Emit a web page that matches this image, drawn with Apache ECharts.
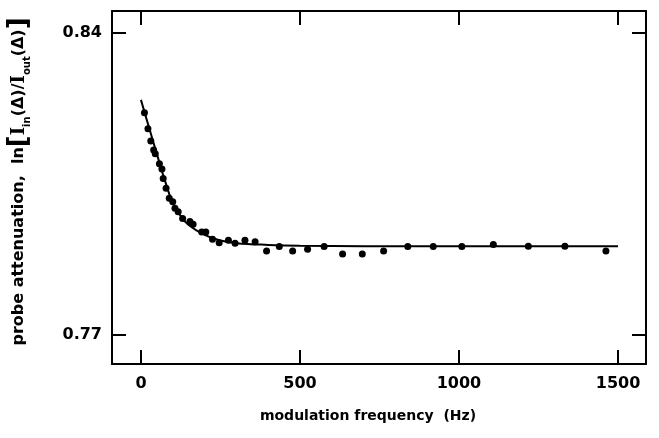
<!DOCTYPE html>
<html>
<head>
<meta charset="utf-8">
<script src="https://cdn.jsdelivr.net/npm/echarts@6/dist/echarts.min.js"></script>
<style>html,body{margin:0;padding:0;background:#fff;}#c{width:659px;height:438px;}</style>
</head>
<body>
<div id="c"></div>
<script>
// measured data points (modulation frequency Hz, probe attenuation)
var pointX = [11, 22, 31, 40, 45, 58, 66, 70, 79, 89, 100, 107, 117, 131, 154, 164, 191, 204, 225, 246, 275, 296, 327, 359, 395, 435, 477, 524, 576, 634, 696, 763, 839, 919, 1009, 1108, 1218, 1333, 1462];
var pointY = [0.8215, 0.8178, 0.8150, 0.8129, 0.8120, 0.8097, 0.8085, 0.8063, 0.8040, 0.8017, 0.8009, 0.7994, 0.7986, 0.7970, 0.7963, 0.7957, 0.7939, 0.7939, 0.7922, 0.7914, 0.7920, 0.7913, 0.7920, 0.7916, 0.7895, 0.7905, 0.7895, 0.7899, 0.7905, 0.7888, 0.7888, 0.7895, 0.7905, 0.7905, 0.7905, 0.7910, 0.7906, 0.7906, 0.7895];
// fitted curve
var curveX = [0, 25, 50, 75, 100, 125, 150, 200, 250, 300, 400, 500, 700, 1000, 1500];
var curveY = [0.8245, 0.8182, 0.8120, 0.8059, 0.8006, 0.7976, 0.7955, 0.7932, 0.7919, 0.7913, 0.7909, 0.7907, 0.7906, 0.7906, 0.7906];
// tick positions / labels
var xTicks = [0, 500, 1000, 1500];
var yTicks = [0.77, 0.84];
var yTickLabels = ['0.77', '0.84'];

var pts = pointX.map(function (x, i) { return [x, pointY[i]]; });
var crv = curveX.map(function (x, i) { return [x, curveY[i]]; });

var XMIN = -91, XMAX = 1588, YMIN = 0.7633, YMAX = 0.8451;
var font = 'DejaVu Sans';
var lineStyle = { color: '#000', width: 2 };

function xAxis(pos, showLabel) {
  return {
    type: 'value', position: pos, min: XMIN, max: XMAX,
    axisLine: { show: true, onZero: false, lineStyle: lineStyle },
    axisTick: { show: true, inside: true, length: 14, lineStyle: lineStyle, customValues: xTicks },
    axisLabel: { show: showLabel, customValues: xTicks, margin: 12, color: '#000', fontFamily: font, fontWeight: 'bold', fontSize: 16,
      formatter: function (v) { return String(v); } },
    splitLine: { show: false }
  };
}
function yAxis(pos, showLabel) {
  return {
    type: 'value', position: pos, min: YMIN, max: YMAX,
    axisLine: { show: true, onZero: false, lineStyle: lineStyle },
    axisTick: { show: true, inside: true, length: 14, lineStyle: lineStyle, customValues: yTicks },
    axisLabel: { show: showLabel, customValues: yTicks, margin: 10, color: '#000', fontFamily: font, fontWeight: 'bold', fontSize: 16,
      formatter: function (v) { var i = -1; for (var k = 0; k < yTicks.length; k++) if (Math.abs(yTicks[k]-v) < 1e-6) i = k; return i >= 0 ? yTickLabels[i] : ''; } },
    splitLine: { show: false }
  };
}

var xb = xAxis('bottom', true);
xb.name = 'modulation frequency  (Hz)';
xb.nameLocation = 'middle';
xb.nameGap = 45;
xb.nameTextStyle = { color: '#000', fontFamily: font, fontWeight: 'bold', fontSize: 14, padding: [0, 22, 0, 0] };

var yl = yAxis('left', true);
yl.name = '{t|probe attenuation,  ln}{b|[}{i|I}{s|in}{t|(Δ)/}{i|I}{s|out}{t|(Δ)}{b|]}';
yl.nameLocation = 'middle';
yl.nameRotate = 90;
yl.nameGap = 80;
yl.nameTextStyle = {
  color: '#000', fontFamily: font, fontWeight: 'bold', fontSize: 16,
  padding: [0, 0, 0, 12],
  rich: {
    t: { fontFamily: font, fontWeight: 'bold', fontSize: 16, lineHeight: 26, color: '#000' },
    b: { fontFamily: font, fontWeight: 'bold', fontSize: 26, lineHeight: 26, color: '#000' },
    i: { fontFamily: 'DejaVu Serif', fontWeight: 'bold', fontSize: 18, lineHeight: 26, color: '#000' },
    s: { fontFamily: font, fontWeight: 'bold', fontSize: 10, lineHeight: 11, verticalAlign: 'bottom', color: '#000' }
  }
};

var chart = echarts.init(document.getElementById('c'), null, { renderer: 'canvas' });
chart.setOption({
  backgroundColor: '#fff',
  animation: false,
  grid: { left: 112, right: 13, top: 11, bottom: 74, containLabel: false, outerBoundsMode: 'none' },
  xAxis: [xb, xAxis('top', false)],
  yAxis: [yl, yAxis('right', false)],
  series: [
    { type: 'line', data: crv, xAxisIndex: 0, yAxisIndex: 0, smooth: 0.4, showSymbol: false, symbol: 'none',
      lineStyle: { color: '#000', width: 2 } },
    { type: 'scatter', data: pts, xAxisIndex: 0, yAxisIndex: 0, symbol: 'circle', symbolSize: 7,
      itemStyle: { color: '#000', opacity: 1 } }
  ]
});
</script>
</body>
</html>
